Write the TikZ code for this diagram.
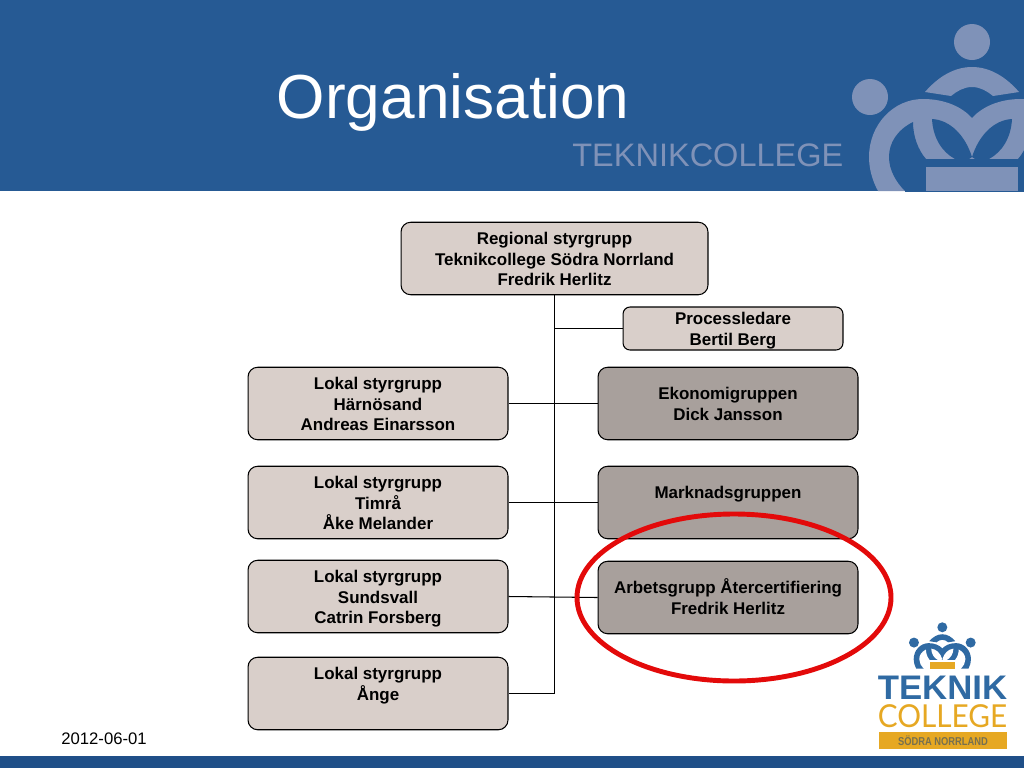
\documentclass[tikz,border=0pt]{standalone}
\usepackage{fontspec}
\setmainfont{Liberation Sans}
\newfontfamily\latofont{Lato}
\usepackage{xcolor}
\definecolor{headblue}{HTML}{265A94}
\definecolor{barblue}{HTML}{1F4F88}
\definecolor{markgray}{HTML}{7F92B8}
\definecolor{logoblue}{HTML}{2F6AA3}
\definecolor{logogold}{HTML}{E6A823}
\definecolor{logotext}{HTML}{77704F}
\definecolor{boxlight}{HTML}{D9CFCA}
\definecolor{boxdark}{HTML}{A8A09C}
\definecolor{ringred}{HTML}{E30A0A}

\tikzset{
    lightbox/.style={draw=black, line width=0.6pt, fill=boxlight, rounded corners=5.5pt, align=center, inner sep=0pt,
        font=\fontsize{9.65}{11.65}\selectfont\bfseries, execute at end node={\rule[-2.4pt]{0pt}{2.4pt}}},
    darkbox/.style={lightbox, fill=boxdark},
    link/.style={draw=black, line width=0.6pt}
}

% pushes the lines of a box down a little
\newcommand{\lift}{\rule{0pt}{9.9pt}}

% crown of the logo: fill colour, colour of the holes, colour of the base
\newcommand{\crownmark}[3]{
    \fill[#1] (972,42) circle (18);
    \fill[#1] (870,97) circle (18);
    \fill[#1] (1074,97) circle (18);
    \fill[#1] (925,92) .. controls (938,77) and (954,67) .. (972,67) .. controls (990,67) and (1006,77) .. (1019,92)
        -- (993,96) .. controls (987,91) and (980,87) .. (972,87) .. controls (964,87) and (957,91) .. (951,96) -- cycle;
    \fill[#1] (878,191) .. controls (872,180) and (869,168) .. (869,157) .. controls (869,125) and (893,99) .. (923,99)
        .. controls (945,99) and (962,107) .. (972,118) .. controls (982,107) and (999,99) .. (1021,99)
        .. controls (1051,99) and (1075,125) .. (1075,157) .. controls (1075,168) and (1072,180) .. (1066,191) -- cycle;
    \fill[#2] (913,122) .. controls (897,130) and (889,143) .. (889,157) .. controls (889,170) and (896,182) .. (905,191)
        -- (926,191) -- (926,159) .. controls (918,150) and (913,136) .. (913,122) -- cycle;
    \fill[#2] (1031,122) .. controls (1047,130) and (1055,143) .. (1055,157) .. controls (1055,170) and (1048,182) .. (1039,191)
        -- (1018,191) -- (1018,159) .. controls (1026,150) and (1031,136) .. (1031,122) -- cycle;
    \fill[#2] (932,119) .. controls (950,120) and (965,135) .. (972,157) -- (969,159) -- (955,159)
        .. controls (942,152) and (933,138) .. (932,119) -- cycle;
    \fill[#2] (1012,119) .. controls (994,120) and (979,135) .. (972,157) -- (975,159) -- (989,159)
        .. controls (1002,152) and (1011,138) .. (1012,119) -- cycle;
    \fill[#2] (905,159) rectangle (1039,192);
    \fill[#3] (926,167) rectangle (1018,191);
}

\begin{document}
\begin{tikzpicture}[x=0.02cm, y=-0.02cm]
    \useasboundingbox (0,0) rectangle (1024,768);

    % header and bottom bar
    \fill[headblue] (0,0) rectangle (1024,191);
    \fill[barblue] (0,756) rectangle (1024,768);
    \begin{scope}
        \clip (0,0) rectangle (1024,191);
        \crownmark{markgray}{headblue}{markgray}
    \end{scope}

    \node[anchor=base west, inner sep=0pt, text=white, font=\fontsize{35.4}{40}\selectfont] (title) at (276.5,118.5) {Organisation};
    \node[anchor=base west, inner sep=0pt, text=markgray, font=\fontsize{18.5}{20}\selectfont] (brand) at (572,166) {TEKNIKCOLLEGE};
    \node[anchor=base west, inner sep=0pt, font=\fontsize{9.5}{11}\selectfont] (date) at (61,744) {2012-06-01};

    % boxes
    \node[lightbox, minimum width=6.14cm, minimum height=1.45cm] (regional) at (554.5,258.5) {\lift Regional styrgrupp\\Teknikcollege Södra Norrland\\Fredrik Herlitz};
    \node[lightbox, rounded corners=4pt, minimum width=4.4cm, minimum height=0.86cm] (process) at (733,328.5) {\lift Processledare\\Bertil Berg};

    \node[lightbox, minimum width=5.2cm, minimum height=1.45cm] (harnosand) at (378,403.5) {\lift Lokal styrgrupp\\Härnösand\\Andreas Einarsson};
    \node[lightbox, minimum width=5.2cm, minimum height=1.45cm] (timra) at (378,502.5) {\lift Lokal styrgrupp\\Timrå\\Åke Melander};
    \node[lightbox, minimum width=5.2cm, minimum height=1.45cm] (sundsvall) at (378,596.5) {\lift Lokal styrgrupp\\Sundsvall\\Catrin Forsberg};
    \node[lightbox, minimum width=5.2cm, minimum height=1.45cm] (ange) at (378,693.5) {\lift Lokal styrgrupp\\Ånge\\~};

    \node[darkbox, minimum width=5.2cm, minimum height=1.45cm] (ekonomi) at (728,403.5) {\lift Ekonomigruppen\\Dick Jansson};
    \node[darkbox, minimum width=5.2cm, minimum height=1.45cm] (marknad) at (728,502.5) {\lift Marknadsgruppen\\~};
    \node[darkbox, minimum width=5.2cm, minimum height=1.45cm] (arbetsgrupp) at (728,597.5) {\lift Arbetsgrupp Återcertifiering\\Fredrik Herlitz};

    % connectors
    \draw[link] (regional.south) |- (ange.east);
    \draw[link] (regional.south |- process.west) -- (process.west);
    \draw[link] (harnosand.east) -- (ekonomi.west);
    \draw[link] (timra.east) -- (marknad.west);
    \draw[link] (sundsvall.east) -- (arbetsgrupp.west);

    % red ring
    \draw[ringred, line width=2.8pt] (734,597.5) ellipse (157 and 83.5);

    % logo
    \begin{scope}[shift={(672.1,615.6)}, scale=0.278]
        \crownmark{logoblue}{white}{logogold}
    \end{scope}
    \node[anchor=base, inner sep=0pt, text=logoblue, xscale=1.02, font=\fontsize{19.4}{20}\selectfont\bfseries] (teknik) at (942.5,699) {TEKNIK};
    \node[anchor=base, inner sep=0pt, text=logogold, xscale=0.94, font=\fontsize{18}{20}\selectfont\latofont] (college) at (942.5,727) {COLLEGE};
    \node[fill=logogold, minimum width=2.56cm, minimum height=0.34cm, inner sep=0pt, text=logotext, font=\fontsize{6.5}{7}\selectfont\bfseries] (sodra) at (943,740.5) {\scalebox{0.82}[1]{SÖDRA NORRLAND}};
\end{tikzpicture}
\end{document}
